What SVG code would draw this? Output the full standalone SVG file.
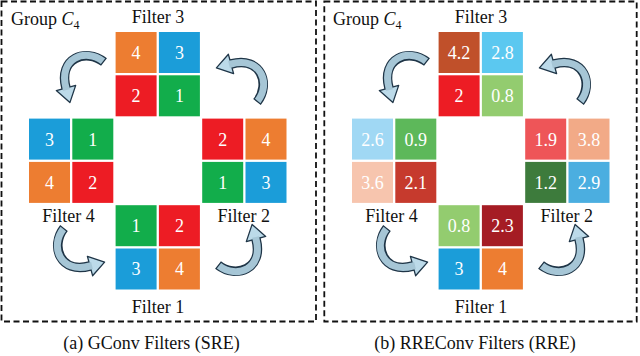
<svg xmlns="http://www.w3.org/2000/svg" xmlns:xlink="http://www.w3.org/1999/xlink" width="640" height="356" viewBox="0 0 640 356" font-family="'Liberation Serif', serif">
<style>
  text, tspan { font-family: "Liberation Serif", serif; }
  .lbl { font-size: 18px; fill: #111; text-anchor: middle; }
  .grp { font-size: 18px; fill: #111; }
  .num { font-size: 18px; fill: #fff; text-anchor: middle; }
  .box { fill: none; stroke: #111; stroke-width: 1.8; stroke-dasharray: 6 3.5; }
  .or { fill: #ED7D31; } .bl { fill: #1B9DD9; } .rd { fill: #ED1C24; } .gr { fill: #12AD4B; }
  .arr-out { fill: none; stroke: #1F3547; stroke-width: 9.6; }
  .arr-in { fill: none; stroke: #A6C6D6; stroke-width: 7; }
  .arr-head { fill: #BCDAE9; stroke: #1F3547; stroke-width: 1.3; stroke-linejoin: round; }
</style>
<defs>
  <g id="arrow">
    <path class="arr-out" d="M104,62 C86,48 58,58 66,88"/>
    <polygon class="arr-head" points="56.3,90.6 75.7,85.4 69.9,102.6"/>
    <path class="arr-in" d="M103,61.3 C85.5,47.6 58,58 66,88 L66.5,90"/>
  </g>
</defs>
<rect width="640" height="356" fill="#fff"/>

<!-- panel frames -->
<rect class="box" x="1.5" y="1.5" width="314.5" height="320"/>
<rect class="box" x="324.3" y="1.5" width="312.4" height="320"/>

<!-- group labels -->
<text class="grp" x="11" y="25">Group <tspan font-style="italic">C</tspan><tspan font-size="12" dy="4">4</tspan></text>
<text class="grp" x="333" y="25">Group <tspan font-style="italic">C</tspan><tspan font-size="12" dy="4">4</tspan></text>

<!-- connectors -->
<g id="connectors">
  <use xlink:href="#arrow"/>
  <use xlink:href="#arrow" transform="rotate(-90,167,165)"/>
  <use xlink:href="#arrow" transform="rotate(180,161,163.5)"/>
  <use xlink:href="#arrow" transform="rotate(90,160.5,158.5)"/>
  <g transform="translate(323,0)">
    <use xlink:href="#arrow"/>
    <use xlink:href="#arrow" transform="rotate(-90,167,165)"/>
    <use xlink:href="#arrow" transform="rotate(180,161,163.5)"/>
    <use xlink:href="#arrow" transform="rotate(90,160.5,158.5)"/>
  </g>
</g>

<!-- Panel (a) -->
<g id="a-filter3" transform="translate(115.6,32)">
  <rect class="or" x="0" y="0" width="41" height="41"/><rect class="bl" x="43.3" y="0" width="41" height="41"/>
  <rect class="rd" x="0" y="43.3" width="41" height="41"/><rect class="gr" x="43.3" y="43.3" width="41" height="41"/>
  <text class="num" x="20.5" y="27">4</text><text class="num" x="63.8" y="27">3</text>
  <text class="num" x="20.5" y="70.3">2</text><text class="num" x="63.8" y="70.3">1</text>
  <text class="lbl" x="42.4" y="-9">Filter 3</text>
</g>
<g id="a-filter4" transform="translate(29,118.6)">
  <rect class="bl" x="0" y="0" width="41" height="41"/><rect class="gr" x="43.3" y="0" width="41" height="41"/>
  <rect class="or" x="0" y="43.3" width="41" height="41"/><rect class="rd" x="43.3" y="43.3" width="41" height="41"/>
  <text class="num" x="20.5" y="27">3</text><text class="num" x="63.8" y="27">1</text>
  <text class="num" x="20.5" y="70.3">4</text><text class="num" x="63.8" y="70.3">2</text>
  <text class="lbl" x="39.5" y="103.4">Filter 4</text>
</g>
<g id="a-filter2" transform="translate(202.2,118.6)">
  <rect class="rd" x="0" y="0" width="41" height="41"/><rect class="or" x="43.3" y="0" width="41" height="41"/>
  <rect class="gr" x="0" y="43.3" width="41" height="41"/><rect class="bl" x="43.3" y="43.3" width="41" height="41"/>
  <text class="num" x="20.5" y="27">2</text><text class="num" x="63.8" y="27">4</text>
  <text class="num" x="20.5" y="70.3">1</text><text class="num" x="63.8" y="70.3">3</text>
  <text class="lbl" x="41.5" y="103.4">Filter 2</text>
</g>
<g id="a-filter1" transform="translate(115.6,205.2)">
  <rect class="gr" x="0" y="0" width="41" height="41"/><rect class="rd" x="43.3" y="0" width="41" height="41"/>
  <rect class="bl" x="0" y="43.3" width="41" height="41"/><rect class="or" x="43.3" y="43.3" width="41" height="41"/>
  <text class="num" x="20.5" y="27">1</text><text class="num" x="63.8" y="27">2</text>
  <text class="num" x="20.5" y="70.3">3</text><text class="num" x="63.8" y="70.3">4</text>
  <text class="lbl" x="42.4" y="107.8">Filter 1</text>
</g>

<!-- Panel (b) -->
<g id="b-filter3" transform="translate(438.6,32)">
  <rect fill="#C0502A" x="0" y="0" width="41" height="41"/><rect fill="#5BC8F0" x="43.3" y="0" width="41" height="41"/>
  <rect fill="#ED1C24" x="0" y="43.3" width="41" height="41"/><rect fill="#93CC6F" x="43.3" y="43.3" width="41" height="41"/>
  <text class="num" x="20.5" y="27">4.2</text><text class="num" x="63.8" y="27">2.8</text>
  <text class="num" x="20.5" y="70.3">2</text><text class="num" x="63.8" y="70.3">0.8</text>
  <text class="lbl" x="42.4" y="-9">Filter 3</text>
</g>
<g id="b-filter4" transform="translate(352,118.6)">
  <rect fill="#A0D8F4" x="0" y="0" width="41" height="41"/><rect fill="#5DB85A" x="43.3" y="0" width="41" height="41"/>
  <rect fill="#F7C5AE" x="0" y="43.3" width="41" height="41"/><rect fill="#C63A2D" x="43.3" y="43.3" width="41" height="41"/>
  <text class="num" x="20.5" y="27">2.6</text><text class="num" x="63.8" y="27">0.9</text>
  <text class="num" x="20.5" y="70.3">3.6</text><text class="num" x="63.8" y="70.3">2.1</text>
  <text class="lbl" x="39.5" y="103.4">Filter 4</text>
</g>
<g id="b-filter2" transform="translate(525.2,118.6)">
  <rect fill="#EE5558" x="0" y="0" width="41" height="41"/><rect fill="#F2AA87" x="43.3" y="0" width="41" height="41"/>
  <rect fill="#3D7B3C" x="0" y="43.3" width="41" height="41"/><rect fill="#4BAEE0" x="43.3" y="43.3" width="41" height="41"/>
  <text class="num" x="20.5" y="27">1.9</text><text class="num" x="63.8" y="27">3.8</text>
  <text class="num" x="20.5" y="70.3">1.2</text><text class="num" x="63.8" y="70.3">2.9</text>
  <text class="lbl" x="41.5" y="103.4">Filter 2</text>
</g>
<g id="b-filter1" transform="translate(438.6,205.2)">
  <rect fill="#93CC6F" x="0" y="0" width="41" height="41"/><rect fill="#A51C24" x="43.3" y="0" width="41" height="41"/>
  <rect fill="#1B9DD9" x="0" y="43.3" width="41" height="41"/><rect fill="#ED7D31" x="43.3" y="43.3" width="41" height="41"/>
  <text class="num" x="20.5" y="27">0.8</text><text class="num" x="63.8" y="27">2.3</text>
  <text class="num" x="20.5" y="70.3">3</text><text class="num" x="63.8" y="70.3">4</text>
  <text class="lbl" x="42.4" y="107.8">Filter 1</text>
</g>

<!-- captions -->
<text class="lbl" x="151.5" y="349">(a) GConv Filters (SRE)</text>
<text class="lbl" x="475" y="349">(b) RREConv Filters (RRE)</text>
</svg>
